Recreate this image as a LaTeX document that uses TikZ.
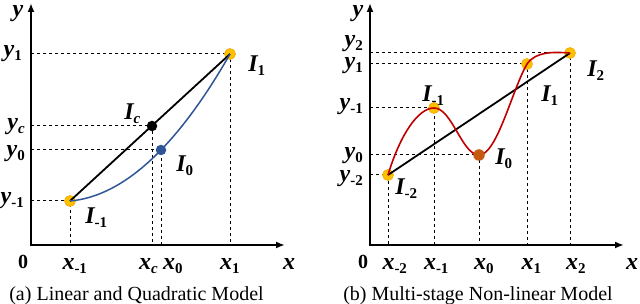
\documentclass[tikz,border=0pt]{standalone}
\usepackage{fontspec}
\setmainfont{Liberation Serif}
\usetikzlibrary{arrows.meta}
\definecolor{gold}{HTML}{FFC000}
\definecolor{goldedge}{HTML}{F5A800}
\definecolor{qblue}{HTML}{2F5597}
\definecolor{qred}{HTML}{C00000}
\definecolor{qbrown}{HTML}{C55A11}
\newcommand\subr[1]{\rlap{\raisebox{-4pt}{\fontsize{15}{15}\selectfont\bfseries\upshape #1}}}
\newcommand\subn[1]{\raisebox{-4pt}{\fontsize{15}{15}\selectfont\bfseries\upshape #1}}
\tikzset{
  axisline/.style={line width=2.4pt,-{Latex[length=9pt,width=7pt]}},
  guide/.style={dash pattern=on 3pt off 3pt,line width=1pt},
  lbl/.style={font=\fontsize{24}{24}\selectfont\bfseries\itshape,inner sep=0pt,anchor=base},
  ylbl/.style={lbl,anchor=base east,text height=12pt,text depth=6pt},
  captext/.style={font=\fontsize{20}{20}\selectfont,inner sep=0pt,anchor=base},
  golddot/.style={circle,fill=gold,draw=goldedge,line width=0.6pt,minimum size=11pt,inner sep=0pt},
  coldot/.style={circle,fill=#1,minimum size=10.5pt,inner sep=0pt},
  mainline/.style={line width=1.8pt},
}
\begin{document}
\begin{tikzpicture}[x=1pt,y=-1pt]
\useasboundingbox (0,0) rectangle (640,304);
% ---------------- panel (a)
\coordinate (aO) at (31,245);
\coordinate (aY) at (31,3);
\coordinate (aX) at (285,245);
\coordinate (aA) at (70,201);
\coordinate (aC) at (152,126);
\coordinate (aB) at (161,150);
\coordinate (aD) at (230,54);
\draw[guide] (aO |- aD) -- (aD) -- (aD |- aO);
\draw[guide] (aO |- aC) -- (aC) -- (aC |- aO);
\draw[guide] (aO |- aB) -- (aB) -- (aB |- aO);
\draw[guide] (aO |- aA) -- (aA) -- (aA |- aO);
\draw[axisline] (aO) -- (aY);
\draw[axisline] ([xshift=-1.2pt]aO) -- (aX);
\node[golddot] (aAd) at (aA) {};
\node[golddot] (aDd) at (aD) {};
\draw[mainline] (aA) -- (aD);
\draw[qblue,line width=1.5pt] (aA) .. controls (123.3,196.3) and (176.7,147.3) .. (aD);
\node[coldot=black] (aCd) at (aC) {};
\node[coldot=qblue] (aBd) at (aB) {};
% labels (a)
\node[lbl,text height=11pt] (aYlab) at (18,17) {y};
\node[lbl] (aXlab) at (289,270) {x};
\node[inner sep=0pt,anchor=base,font=\fontsize{20}{20}\selectfont\bfseries] (aZero) at (23,269) {0};
\node[lbl] (ax1) at (68.5,270) {x\subr{-1}};
\node[lbl] (axc) at (145,270) {x\subr{\itshape c}};
\node[lbl] (ax0) at (169,270) {x\subr{0}};
\node[lbl] (axp) at (226,270) {x\subr{1}};
\node[ylbl] (ayp) at (22,57) {y\subn{1}};
\node[ylbl] (ayc) at (25,130) {y\subn{\itshape c}};
\node[ylbl] (ay0) at (25,157) {y\subn{0}};
\node[ylbl] (ay1) at (24,204) {y\subn{-1}};
\node[lbl] (aI1) at (253,72) {I\subr{1}};
\node[lbl] (aIc) at (129,120) {I\subr{\itshape c}};
\node[lbl] (aI0) at (181,172) {I\subr{0}};
\node[lbl] (aIm) at (90,224) {I\subr{-1}};
\node[captext] (acap) at (136.5,301) {(a) Linear and Quadratic Model};
% ---------------- panel (b)
\coordinate (bO) at (370,245);
\coordinate (bY) at (370,3);
\coordinate (bX) at (624,245);
\coordinate (bM2) at (388,175);
\coordinate (bM1) at (434,108);
\coordinate (bZ) at (479,155);
\coordinate (bP1) at (527,64);
\coordinate (bP2) at (570,53);
\draw[guide] (bO |- bP2) -- (bP2) -- (bP2 |- bO);
\draw[guide] (bO |- bP1) -- (bP1) -- (bP1 |- bO);
\draw[guide] (bO |- bM1) -- (bM1) -- (bM1 |- bO);
\draw[guide] (bO |- bZ) -- (bZ) -- (bZ |- bO);
\draw[guide] (bO |- bM2) -- (bM2) -- (bM2 |- bO);
\draw[axisline] (bO) -- (bY);
\draw[axisline] ([xshift=-1.2pt]bO) -- (bX);
\node[golddot] (bM2d) at (bM2) {};
\node[golddot] (bM1d) at (bM1) {};
\node[golddot] (bP1d) at (bP1) {};
\node[golddot] (bP2d) at (bP2) {};
\draw[mainline] (bM2) -- (bP2);
\draw[qred,line width=1.6pt] (bM2) .. controls (400,135) and (418,108) .. (bM1)
  .. controls (452,108) and (462,155) .. (bZ)
  .. controls (497,155) and (512,90) .. (bP1)
  .. controls (536,51) and (554,52) .. (bP2);
\node[coldot=qbrown,minimum size=11.5pt] (bZd) at (bZ) {};
% labels (b)
\node[lbl,text height=11pt] (bYlab) at (358,17) {y};
\node[lbl] (bXlab) at (632,270) {x};
\node[inner sep=0pt,anchor=base,font=\fontsize{20}{20}\selectfont\bfseries] (bZero) at (363,269) {0};
\node[lbl] (bxm2) at (388.5,270) {x\subr{-2}};
\node[lbl] (bxm1) at (430,270) {x\subr{-1}};
\node[lbl] (bx0) at (480,270) {x\subr{0}};
\node[lbl] (bx1) at (527.5,270) {x\subr{1}};
\node[lbl] (bx2) at (572,270) {x\subr{2}};
\node[ylbl] (by2) at (363,47) {y\subn{2}};
\node[ylbl] (by1) at (363,69) {y\subn{1}};
\node[ylbl] (bym1) at (363,110) {y\subn{-1}};
\node[ylbl] (by0) at (363,159) {y\subn{0}};
\node[ylbl] (bym2) at (363,182) {y\subn{-2}};
\node[lbl] (bI2) at (592,77) {I\subr{2}};
\node[lbl] (bI1) at (546,102) {I\subr{1}};
\node[lbl] (bIm1) at (427,102) {I\subr{-1}};
\node[lbl] (bI0) at (500,165) {I\subr{0}};
\node[lbl] (bIm2) at (400,195) {I\subr{-2}};
\node[captext] (bcap) at (478,301) {(b) Multi-stage Non-linear Model};
\end{tikzpicture}
\end{document}
